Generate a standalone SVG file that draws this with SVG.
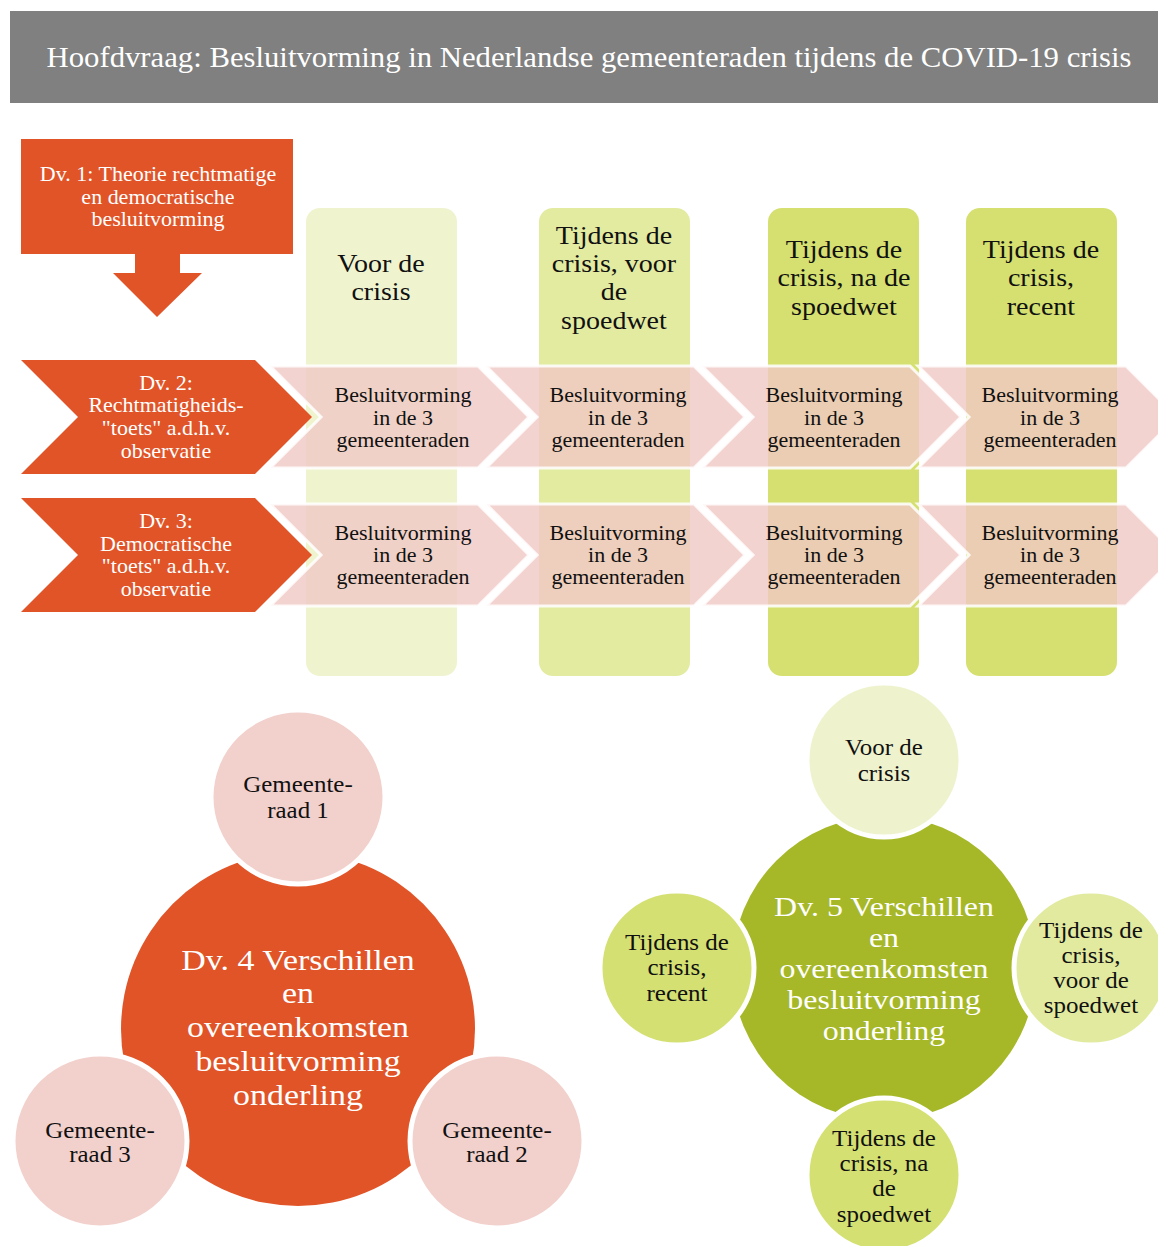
<svg xmlns="http://www.w3.org/2000/svg" width="1158" height="1246" viewBox="0 0 1158 1246">
<style>
text{font-family:"Liberation Serif","Times New Roman",serif;text-anchor:middle;transform-box:fill-box;transform-origin:center}
.w{fill:#ffffff}
.k{fill:#111111}
.s22{font-size:20px;transform:scaleX(1.1)}
.s25{font-size:22.5px;transform:scaleX(1.11)}
.s28{font-size:25px;transform:scaleX(1.12)}
.b34{font-size:30px;transform:scaleX(1.13)}
.b32{font-size:28px;transform:scaleX(1.14)}
.org{fill:#E05428}
.pk{fill:#F0C8C4;fill-opacity:0.8;stroke:#ffffff;stroke-width:3;stroke-opacity:0.85}
.sc{stroke:#ffffff;stroke-width:5}
</style>
<rect width="1158" height="1246" fill="#ffffff"/>

<g id="header">
<rect x="10" y="11" width="1148" height="92" fill="#808080"/>
<text x="589" y="67" class="w" style="font-size:29px" textLength="1085" lengthAdjust="spacingAndGlyphs">Hoofdvraag: Besluitvorming in Nederlandse gemeenteraden tijdens de COVID-19 crisis</text>
</g>

<g id="dv1">
<rect x="21" y="139" width="272" height="115" class="org"/>
<polygon points="135,254 180,254 180,273 202,273 157,317 113,273 135,273" class="org"/>
<text class="w s22" x="158" y="181">Dv. 1: Theorie rechtmatige</text>
<text class="w s22" x="158" y="204">en democratische</text>
<text class="w s22" x="158" y="226">besluitvorming</text>
</g>

<g id="col1">
<rect x="306" y="208" width="151" height="468" rx="14" fill="#EFF4CF"/>
<text class="k s28" x="381" y="272">Voor de</text>
<text class="k s28" x="381" y="300">crisis</text>
</g>
<g id="col2">
<rect x="539" y="208" width="151" height="468" rx="14" fill="#E3EBA1"/>
<text class="k s28" x="614" y="244">Tijdens de</text>
<text class="k s28" x="614" y="272">crisis, voor</text>
<text class="k s28" x="614" y="300">de</text>
<text class="k s28" x="614" y="329">spoedwet</text>
</g>
<g id="col3">
<rect x="768" y="208" width="151" height="468" rx="14" fill="#D5E070"/>
<text class="k s28" x="844" y="258">Tijdens de</text>
<text class="k s28" x="844" y="286">crisis, na de</text>
<text class="k s28" x="844" y="315">spoedwet</text>
</g>
<g id="col4">
<rect x="966" y="208" width="151" height="468" rx="14" fill="#D5E070"/>
<text class="k s28" x="1041" y="258">Tijdens de</text>
<text class="k s28" x="1041" y="286">crisis,</text>
<text class="k s28" x="1041" y="315">recent</text>
</g>

<g id="dv2">
<polygon points="21,360 255,360 312,417 255,474 21,474 78,417" class="org"/>
<text class="w s22" x="166" y="390">Dv. 2:</text>
<text class="w s22" x="166" y="412">Rechtmatigheids-</text>
<text class="w s22" x="166" y="435">"toets" a.d.h.v.</text>
<text class="w s22" x="166" y="458">observatie</text>
</g>
<g id="dv3">
<polygon points="21,498 255,498 312,555 255,612 21,612 78,555" class="org"/>
<text class="w s22" x="166" y="528">Dv. 3:</text>
<text class="w s22" x="166" y="551">Democratische</text>
<text class="w s22" x="166" y="573">"toets" a.d.h.v.</text>
<text class="w s22" x="166" y="596">observatie</text>
</g>

<g id="r1c1">
<polygon class="pk" points="270,366 478,366 529,417 478,468 270,468 321,417"/>
<text class="k s22" x="403" y="402">Besluitvorming</text>
<text class="k s22" x="403" y="425">in de 3</text>
<text class="k s22" x="403" y="447">gemeenteraden</text>
</g>
<g id="r1c2">
<polygon class="pk" points="486,366 694,366 745,417 694,468 486,468 537,417"/>
<text class="k s22" x="618" y="402">Besluitvorming</text>
<text class="k s22" x="618" y="425">in de 3</text>
<text class="k s22" x="618" y="447">gemeenteraden</text>
</g>
<g id="r1c3">
<polygon class="pk" points="702,366 910,366 961,417 910,468 702,468 753,417"/>
<text class="k s22" x="834" y="402">Besluitvorming</text>
<text class="k s22" x="834" y="425">in de 3</text>
<text class="k s22" x="834" y="447">gemeenteraden</text>
</g>
<g id="r1c4">
<polygon class="pk" points="918,366 1126,366 1177,417 1126,468 918,468 969,417"/>
<text class="k s22" x="1050" y="402">Besluitvorming</text>
<text class="k s22" x="1050" y="425">in de 3</text>
<text class="k s22" x="1050" y="447">gemeenteraden</text>
</g>

<g id="r2c1">
<polygon class="pk" points="270,504 478,504 529,555 478,606 270,606 321,555"/>
<text class="k s22" x="403" y="540">Besluitvorming</text>
<text class="k s22" x="403" y="562">in de 3</text>
<text class="k s22" x="403" y="584">gemeenteraden</text>
</g>
<g id="r2c2">
<polygon class="pk" points="486,504 694,504 745,555 694,606 486,606 537,555"/>
<text class="k s22" x="618" y="540">Besluitvorming</text>
<text class="k s22" x="618" y="562">in de 3</text>
<text class="k s22" x="618" y="584">gemeenteraden</text>
</g>
<g id="r2c3">
<polygon class="pk" points="702,504 910,504 961,555 910,606 702,606 753,555"/>
<text class="k s22" x="834" y="540">Besluitvorming</text>
<text class="k s22" x="834" y="562">in de 3</text>
<text class="k s22" x="834" y="584">gemeenteraden</text>
</g>
<g id="r2c4">
<polygon class="pk" points="918,504 1126,504 1177,555 1126,606 918,606 969,555"/>
<text class="k s22" x="1050" y="540">Besluitvorming</text>
<text class="k s22" x="1050" y="562">in de 3</text>
<text class="k s22" x="1050" y="584">gemeenteraden</text>
</g>

<g id="connectors"></g>

<g id="dv4">
<circle cx="298" cy="1029" r="177" class="org"/>
<text class="w b34" x="298" y="970">Dv. 4 Verschillen</text>
<text class="w b34" x="298" y="1003">en</text>
<text class="w b34" x="298" y="1037">overeenkomsten</text>
<text class="w b34" x="298" y="1071">besluitvorming</text>
<text class="w b34" x="298" y="1105">onderling</text>
</g>
<g id="gr1">
<circle cx="298" cy="797" r="87" fill="#F2D0CC" class="sc"/>
<text class="k s25" x="298" y="792">Gemeente-</text>
<text class="k s25" x="298" y="818">raad 1</text>
</g>
<g id="gr2">
<circle cx="497" cy="1141" r="87" fill="#F2D0CC" class="sc"/>
<text class="k s25" x="497" y="1138">Gemeente-</text>
<text class="k s25" x="497" y="1162">raad 2</text>
</g>
<g id="gr3">
<circle cx="100" cy="1141" r="87" fill="#F2D0CC" class="sc"/>
<text class="k s25" x="100" y="1138">Gemeente-</text>
<text class="k s25" x="100" y="1162">raad 3</text>
</g>

<g id="dv5">
<circle cx="884" cy="968" r="152" fill="#A6B828"/>
<text class="w b32" x="884" y="916">Dv. 5 Verschillen</text>
<text class="w b32" x="884" y="947">en</text>
<text class="w b32" x="884" y="978">overeenkomsten</text>
<text class="w b32" x="884" y="1009">besluitvorming</text>
<text class="w b32" x="884" y="1040">onderling</text>
</g>
<g id="p1">
<circle cx="884" cy="760" r="77" fill="#EEF3CD" class="sc"/>
<text class="k s25" x="884" y="755">Voor de</text>
<text class="k s25" x="884" y="781">crisis</text>
</g>
<g id="p2">
<circle cx="1091" cy="968" r="77" fill="#E2EA9F" class="sc"/>
<text class="k s25" x="1091" y="938">Tijdens de</text>
<text class="k s25" x="1091" y="963">crisis,</text>
<text class="k s25" x="1091" y="988">voor de</text>
<text class="k s25" x="1091" y="1013">spoedwet</text>
</g>
<g id="p3">
<circle cx="884" cy="1175" r="77" fill="#D4E072" class="sc"/>
<text class="k s25" x="884" y="1146">Tijdens de</text>
<text class="k s25" x="884" y="1171">crisis, na</text>
<text class="k s25" x="884" y="1196">de</text>
<text class="k s25" x="884" y="1222">spoedwet</text>
</g>
<g id="p4">
<circle cx="677" cy="968" r="77" fill="#D4E072" class="sc"/>
<text class="k s25" x="677" y="950">Tijdens de</text>
<text class="k s25" x="677" y="975">crisis,</text>
<text class="k s25" x="677" y="1001">recent</text>
</g>
</svg>
